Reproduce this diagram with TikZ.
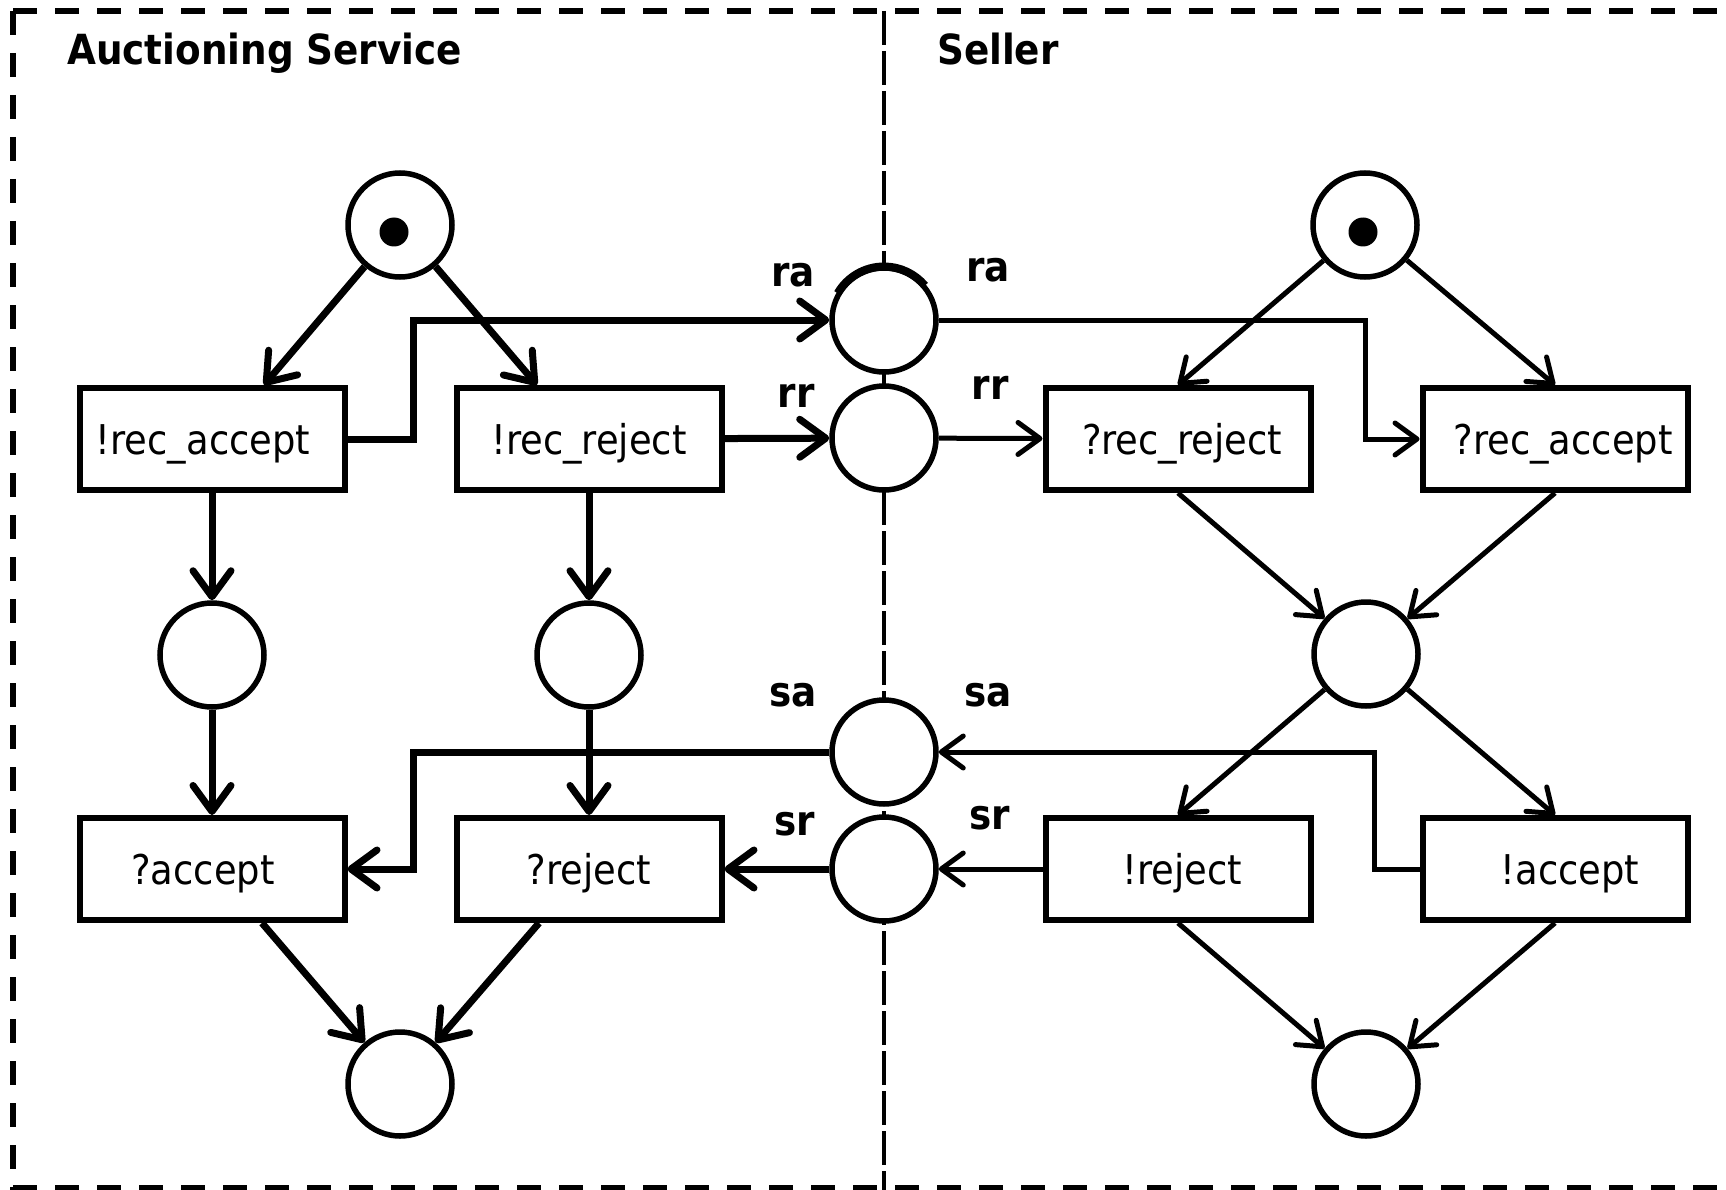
\documentclass[tikz,border=0pt]{standalone}
\usepackage{fontspec}
\setmainfont{DejaVu Sans Condensed}
\usetikzlibrary{arrows.meta}
\begin{document}
\begin{tikzpicture}[x=1pt,y=-1pt,
  place/.style={circle,draw,line width=5.5pt,minimum size=104pt,inner sep=0pt,fill=white},
  trans/.style={rectangle,draw,line width=6pt,minimum width=265pt,minimum height=102pt,inner sep=0pt,fill=white,font=\fontsize{41}{49}\selectfont,text height=39pt,text depth=8pt},
  token/.style={circle,fill=black,minimum size=29pt,inner sep=0pt},
  lbl/.style={font=\fontsize{41.5}{49}\selectfont\bfseries,inner sep=0pt},
  lt/.style={line width=7pt,-{Straight Barb[length=26pt,width=38pt,round]}},
  rt/.style={line width=5pt,-{Straight Barb[length=22pt,width=32pt,round]}},
  border/.style={line width=5.5pt,dash pattern=on 24pt off 18pt},
  divider/.style={line width=4.5pt,dash pattern=on 34pt off 6pt}]
\useasboundingbox (0,0) rectangle (1726,1190);
\fill[white] (0,0) rectangle (1726,1190);
% frame
\draw[border] (13,11) -- (1726,11);
\draw[border] (13,11) -- (13,1190);
\draw[border] (13,1188) -- (1726,1188);
\draw[divider] (884,11) -- (884,1190);
% titles
\node[lbl,anchor=base west] (ttl1) at (67,65) {Auctioning Service};
\node[lbl,anchor=base west] (ttl2) at (937,65) {Seller};
% places
\node[place] (p0) at (400,225) {};
\node[token] (k0) at (394,232) {};
\node[place] (p4) at (1365,225) {};
\node[token] (k4) at (1363,232) {};
\node[place] (ra) at (884,320) {};
\begin{scope}[y=1pt]
\draw[line width=8pt] (ra.center) ++(150:53.5pt) arc[start angle=150,end angle=40,radius=53.5pt];
\end{scope}
\node[place] (rr) at (884,438) {};
\node[place] (p1) at (212,655) {};
\node[place] (p2) at (589,655) {};
\node[place] (p5) at (1366,654) {};
\node[place] (sa) at (884,752) {};
\node[place] (sr) at (884,869) {};
\node[place] (p3) at (400,1084) {};
\node[place] (p6) at (1366,1084) {};
% transitions
\node[trans] (t1) at (212,439) {\hspace*{-18pt}!rec\_accept};
\node[trans] (t2) at (589,439) {!rec\_reject};
\node[trans] (t3) at (1178,439) {\hspace*{8pt}?rec\_reject};
\node[trans] (t4) at (1555,439) {\hspace*{16pt}?rec\_accept};
\node[trans] (t5) at (212,869) {\hspace*{-18pt}?accept};
\node[trans] (t6) at (589,869) {?reject};
\node[trans] (t7) at (1178,869) {\hspace*{8pt}!reject};
\node[trans] (t8) at (1555,869) {\hspace*{30pt}!accept};
% channel labels
\node[lbl] (lra1) at (793,275) {ra};
\node[lbl] (lra2) at (988,270) {ra};
\node[lbl] (lrr1) at (796,396) {rr};
\node[lbl] (lrr2) at (990,388) {rr};
\node[lbl] (lsa1) at (793,695) {sa};
\node[lbl] (lsa2) at (988,695) {sa};
\node[lbl] (lsr1) at (795,824) {sr};
\node[lbl] (lsr2) at (990,818) {sr};
% auctioning service arcs
\draw[lt] (p0) -- ([xshift=52pt]t1.north);
\draw[lt] (p0) -- ([xshift=-52pt]t2.north);
\draw[lt] (t1.east) -- (413,439) |- (ra);
\draw[lt] (t2) -- (rr);
\draw[lt] (t1) -- (p1);
\draw[lt] (t2) -- (p2);
\draw[lt] (p1) -- (t5);
\draw[lt] (p2) -- (t6);
\draw[lt] (sa.west) -- (413,752) |- (t5);
\draw[lt] (sr) -- (t6);
\draw[lt] ([xshift=50pt]t5.south) -- (p3);
\draw[lt] ([xshift=-50pt]t6.south) -- (p3);
% seller arcs
\draw[rt] (p4) -- (t3.north);
\draw[rt] (p4) -- (t4.north);
\draw[rt] (ra.east) -- (1365,320) |- (t4);
\draw[rt] (rr) -- (t3);
\draw[rt] (t3.south) -- (p5);
\draw[rt] (t4.south) -- (p5);
\draw[rt] (p5) -- (t7.north);
\draw[rt] (p5) -- (t8.north);
\draw[rt] (t8.west) -- (1374,869) |- (sa);
\draw[rt] (t7) -- (sr);
\draw[rt] (t7.south) -- (p6);
\draw[rt] (t8.south) -- (p6);
\end{tikzpicture}
\end{document}
